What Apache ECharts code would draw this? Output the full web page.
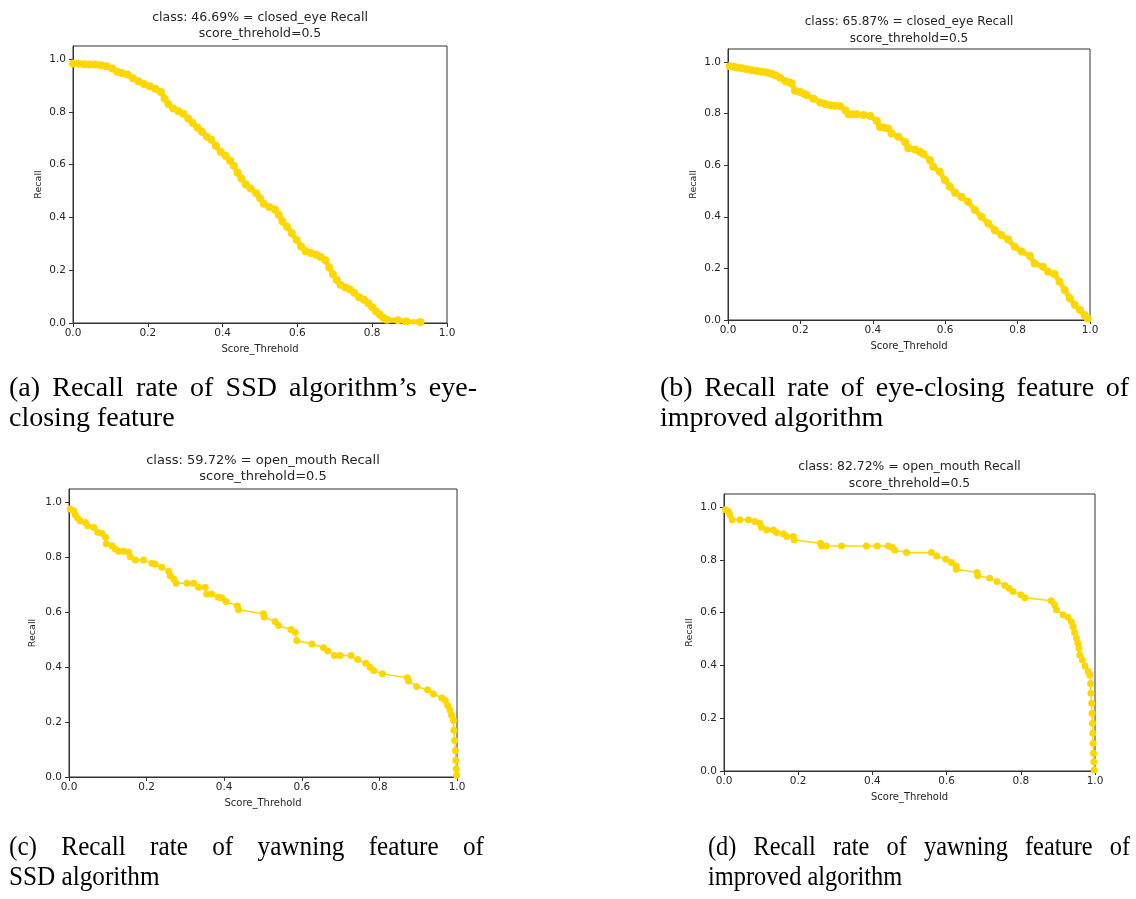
<!DOCTYPE html>
<html>
<head>
<meta charset="utf-8">
<script src="https://cdn.jsdelivr.net/npm/echarts@6.0.0/dist/echarts.min.js"></script>
<style>
html, body { margin: 0; padding: 0; background: #fff; }
#main { width: 1136px; height: 899px; }
</style>
</head>
<body>
<div id="main"></div>
<script>
// tick labels
var xTicks = [0, 0.2, 0.4, 0.6, 0.8, 1.0];
var yTicks = [0, 0.2, 0.4, 0.6, 0.8, 1.0];

// (a) closed_eye, SSD
var eyeSsdScore = [0.000,0.015,0.030,0.045,0.060,0.075,0.090,0.105,0.118,0.130,0.145,0.160,0.175,0.190,0.205,0.220,0.235,0.245,0.255,0.268,0.282,0.295,0.308,0.320,0.333,0.345,0.358,0.370,0.382,0.395,0.408,0.420,0.430,0.440,0.450,0.462,0.475,0.490,0.500,0.510,0.525,0.540,0.550,0.560,0.572,0.585,0.598,0.610,0.622,0.636,0.650,0.662,0.675,0.685,0.695,0.705,0.715,0.728,0.740,0.752,0.765,0.778,0.790,0.800,0.810,0.820,0.830,0.840,0.869,0.891,0.929];
var eyeSsdRecall = [0.984,0.983,0.981,0.980,0.980,0.977,0.973,0.965,0.952,0.948,0.942,0.928,0.916,0.906,0.897,0.888,0.876,0.850,0.830,0.813,0.803,0.793,0.775,0.758,0.740,0.725,0.706,0.695,0.672,0.648,0.634,0.615,0.596,0.570,0.548,0.525,0.510,0.492,0.473,0.452,0.440,0.430,0.410,0.385,0.365,0.340,0.315,0.290,0.272,0.265,0.259,0.250,0.238,0.210,0.185,0.163,0.145,0.135,0.128,0.115,0.098,0.088,0.075,0.060,0.045,0.032,0.020,0.012,0.010,0.006,0.004];

// (b) closed_eye, improved
var eyeImpScore = [0.005,0.015,0.025,0.038,0.052,0.066,0.080,0.094,0.108,0.120,0.131,0.144,0.158,0.170,0.176,0.185,0.199,0.210,0.218,0.236,0.255,0.268,0.282,0.296,0.310,0.324,0.333,0.345,0.356,0.374,0.393,0.411,0.420,0.432,0.443,0.452,0.471,0.489,0.498,0.517,0.530,0.540,0.558,0.567,0.585,0.599,0.613,0.627,0.645,0.663,0.682,0.700,0.719,0.737,0.755,0.774,0.792,0.811,0.834,0.847,0.870,0.884,0.902,0.916,0.930,0.944,0.958,0.972,0.985,0.994];
var eyeImpRecall = [0.983,0.981,0.978,0.975,0.972,0.968,0.965,0.962,0.959,0.954,0.948,0.939,0.926,0.920,0.916,0.888,0.883,0.877,0.871,0.857,0.843,0.837,0.832,0.830,0.828,0.813,0.797,0.797,0.797,0.794,0.790,0.772,0.748,0.745,0.742,0.723,0.710,0.690,0.665,0.661,0.652,0.643,0.619,0.594,0.574,0.542,0.516,0.493,0.477,0.458,0.426,0.400,0.374,0.348,0.329,0.312,0.284,0.265,0.248,0.219,0.206,0.187,0.178,0.148,0.116,0.084,0.058,0.039,0.019,0.006];

// (c) open_mouth, SSD
var mouthSsdScore = [0.003,0.012,0.016,0.022,0.029,0.042,0.048,0.064,0.074,0.085,0.094,0.096,0.111,0.119,0.128,0.141,0.154,0.158,0.171,0.192,0.214,0.222,0.239,0.257,0.261,0.270,0.276,0.304,0.321,0.334,0.351,0.355,0.368,0.385,0.394,0.405,0.434,0.437,0.501,0.503,0.531,0.540,0.572,0.583,0.587,0.626,0.656,0.667,0.684,0.699,0.727,0.744,0.765,0.776,0.785,0.808,0.872,0.875,0.896,0.924,0.939,0.961,0.970,0.976,0.982,0.986,0.991,0.992,0.994,0.996,0.997,0.998,0.999];
var mouthSsdRecall = [0.977,0.971,0.956,0.944,0.934,0.928,0.916,0.910,0.892,0.888,0.874,0.850,0.843,0.831,0.823,0.823,0.819,0.803,0.791,0.791,0.779,0.777,0.765,0.750,0.734,0.722,0.706,0.706,0.706,0.692,0.692,0.667,0.667,0.655,0.653,0.640,0.623,0.610,0.595,0.583,0.567,0.552,0.538,0.528,0.498,0.485,0.471,0.459,0.443,0.443,0.443,0.428,0.415,0.400,0.388,0.376,0.362,0.350,0.330,0.318,0.303,0.288,0.279,0.261,0.243,0.225,0.206,0.170,0.133,0.097,0.061,0.030,0.006];

// (d) open_mouth, improved
var mouthImpScore = [0.004,0.012,0.016,0.022,0.043,0.066,0.083,0.097,0.101,0.115,0.133,0.142,0.160,0.169,0.187,0.189,0.260,0.263,0.276,0.317,0.384,0.413,0.443,0.453,0.460,0.492,0.559,0.573,0.598,0.613,0.626,0.626,0.682,0.684,0.716,0.736,0.757,0.768,0.779,0.800,0.811,0.882,0.891,0.896,0.914,0.927,0.936,0.941,0.945,0.950,0.954,0.957,0.959,0.966,0.973,0.982,0.986,0.988,0.989,0.991,0.992,0.993,0.994,0.995,0.996,0.997,0.998];
var mouthImpRecall = [0.990,0.984,0.971,0.952,0.952,0.952,0.946,0.939,0.924,0.914,0.914,0.904,0.899,0.889,0.889,0.876,0.863,0.853,0.853,0.853,0.853,0.853,0.853,0.848,0.838,0.828,0.828,0.815,0.803,0.790,0.777,0.765,0.752,0.740,0.731,0.718,0.703,0.693,0.680,0.668,0.657,0.645,0.630,0.611,0.592,0.583,0.566,0.547,0.525,0.503,0.484,0.465,0.440,0.421,0.398,0.377,0.364,0.332,0.295,0.257,0.219,0.181,0.143,0.105,0.067,0.035,0.004];

var chartTitles = [
    'class: 46.69% = closed_eye Recall\nscore_threhold=0.5',
    'class: 65.87% = closed_eye Recall\nscore_threhold=0.5',
    'class: 59.72% = open_mouth Recall\nscore_threhold=0.5',
    'class: 82.72% = open_mouth Recall\nscore_threhold=0.5'
];
var captions = [
    ['(a) Recall rate of SSD algorithm\u2019s eye-', 'closing feature'],
    ['(b) Recall rate of eye-closing feature of', 'improved algorithm'],
    ['(c) Recall rate of yawning feature of', 'SSD algorithm'],
    ['(d) Recall rate of yawning feature of', 'improved algorithm']
];

var series_x = [eyeSsdScore, eyeImpScore, mouthSsdScore, mouthImpScore];
var series_y = [eyeSsdRecall, eyeImpRecall, mouthSsdRecall, mouthImpRecall];

// panel layout in pixels; cap = [x0, x1, y of first line, horizontal squeeze]
var panels = [
    {left: 73, top: 46, width: 374, height: 277, titleTop: 9, fs: 12.5, sym: 8, line: 5, yGap: 29, cap: [9, 477, 389, 1.0]},
    {left: 728, top: 49, width: 362, height: 271, titleTop: 14, fs: 12.1, sym: 8, line: 5, yGap: 29, cap: [660, 1129, 389, 1.0]},
    {left: 69, top: 489, width: 388, height: 288, titleTop: 452, fs: 13, sym: 7, line: 1.5, yGap: 31, cap: [9, 484, 848, 0.9]},
    {left: 724, top: 494, width: 371, height: 277, titleTop: 459, fs: 12.4, sym: 7, line: 1.5, yGap: 29, cap: [708, 1130, 848, 0.87]}
];

var gold = '#FFD700';
var ink = '#262626';
var font = 'DejaVu Sans';
var capFont = '28px "Liberation Serif"';

var ctx = document.createElement('canvas').getContext('2d');
ctx.font = capFont;

function word(text, x, y, sx) {
    return {type: 'text', x: x, y: y, scaleX: sx, silent: true,
        style: {text: text, font: capFont, fill: '#000', textVerticalAlign: 'middle'}};
}

function captionText(text, x0, x1, y, sx, justify) {
    if (!justify) {
        return [word(text, x0, y, sx)];
    }
    var words = text.split(' ');
    var widths = words.map(function (w) { return ctx.measureText(w).width * sx; });
    var total = widths.reduce(function (a, b) { return a + b; }, 0);
    var gap = (x1 - x0 - total) / (words.length - 1);
    var out = [];
    var x = x0;
    words.forEach(function (w, i) {
        out.push(word(w, x, y, sx));
        x += widths[i] + gap;
    });
    return out;
}

var option = {
    backgroundColor: '#fff',
    animation: false,
    title: [], grid: [], xAxis: [], yAxis: [], series: [], graphic: []
};

panels.forEach(function (p, i) {
    option.title.push({
        text: chartTitles[i],
        left: p.left + p.width / 2,
        top: p.titleTop,
        textAlign: 'center',
        padding: 0,
        textStyle: {fontFamily: font, fontSize: p.fs, fontWeight: 'normal', color: ink, lineHeight: 16.5}
    });
    option.grid.push({
        left: p.left, top: p.top, width: p.width, height: p.height,
        show: true, borderColor: '#333', borderWidth: 1, containLabel: false
    });
    option.xAxis.push({
        gridIndex: i, type: 'value', min: 0, max: 1, interval: 0.2,
        name: 'Score_Threhold', nameLocation: 'middle', nameGap: 21,
        nameTextStyle: {fontFamily: font, fontSize: 10, color: ink},
        axisLine: {show: true, onZero: false, lineStyle: {color: '#333', width: 1}},
        axisTick: {show: true, length: 4, lineStyle: {color: '#333'}},
        axisLabel: {margin: 5, fontFamily: font, fontSize: 10.5, color: ink,
            formatter: function (v) { return v.toFixed(1); }},
        splitLine: {show: false}
    });
    option.yAxis.push({
        gridIndex: i, type: 'value', min: 0, max: 1.05,
        name: 'Recall', nameLocation: 'middle', nameGap: p.yGap, nameRotate: 90,
        nameTextStyle: {fontFamily: font, fontSize: 9.5, color: ink},
        axisLine: {show: true, onZero: false, lineStyle: {color: '#333', width: 1}},
        axisTick: {show: true, length: 4, customValues: yTicks, lineStyle: {color: '#333'}},
        axisLabel: {margin: 7, fontFamily: font, fontSize: 10.5, color: ink, customValues: yTicks,
            formatter: function (v) { return v.toFixed(1); }},
        splitLine: {show: false}
    });
    option.series.push({
        type: 'line', xAxisIndex: i, yAxisIndex: i,
        data: series_x[i].map(function (x, k) { return [x, series_y[i][k]]; }),
        symbol: 'circle', symbolSize: p.sym, showSymbol: true, showAllSymbol: true,
        itemStyle: {color: gold},
        lineStyle: {color: gold, width: p.line},
        emphasis: {disabled: true}
    });
    var c = p.cap;
    option.graphic = option.graphic
        .concat(captionText(captions[i][0], c[0], c[1], c[2], c[3], true))
        .concat(captionText(captions[i][1], c[0], c[1], c[2] + 30, c[3], false));
});

var chart = echarts.init(document.getElementById('main'));
chart.setOption(option);
window.addEventListener('resize', function () {
    chart.resize();
});
</script>
</body>
</html>
